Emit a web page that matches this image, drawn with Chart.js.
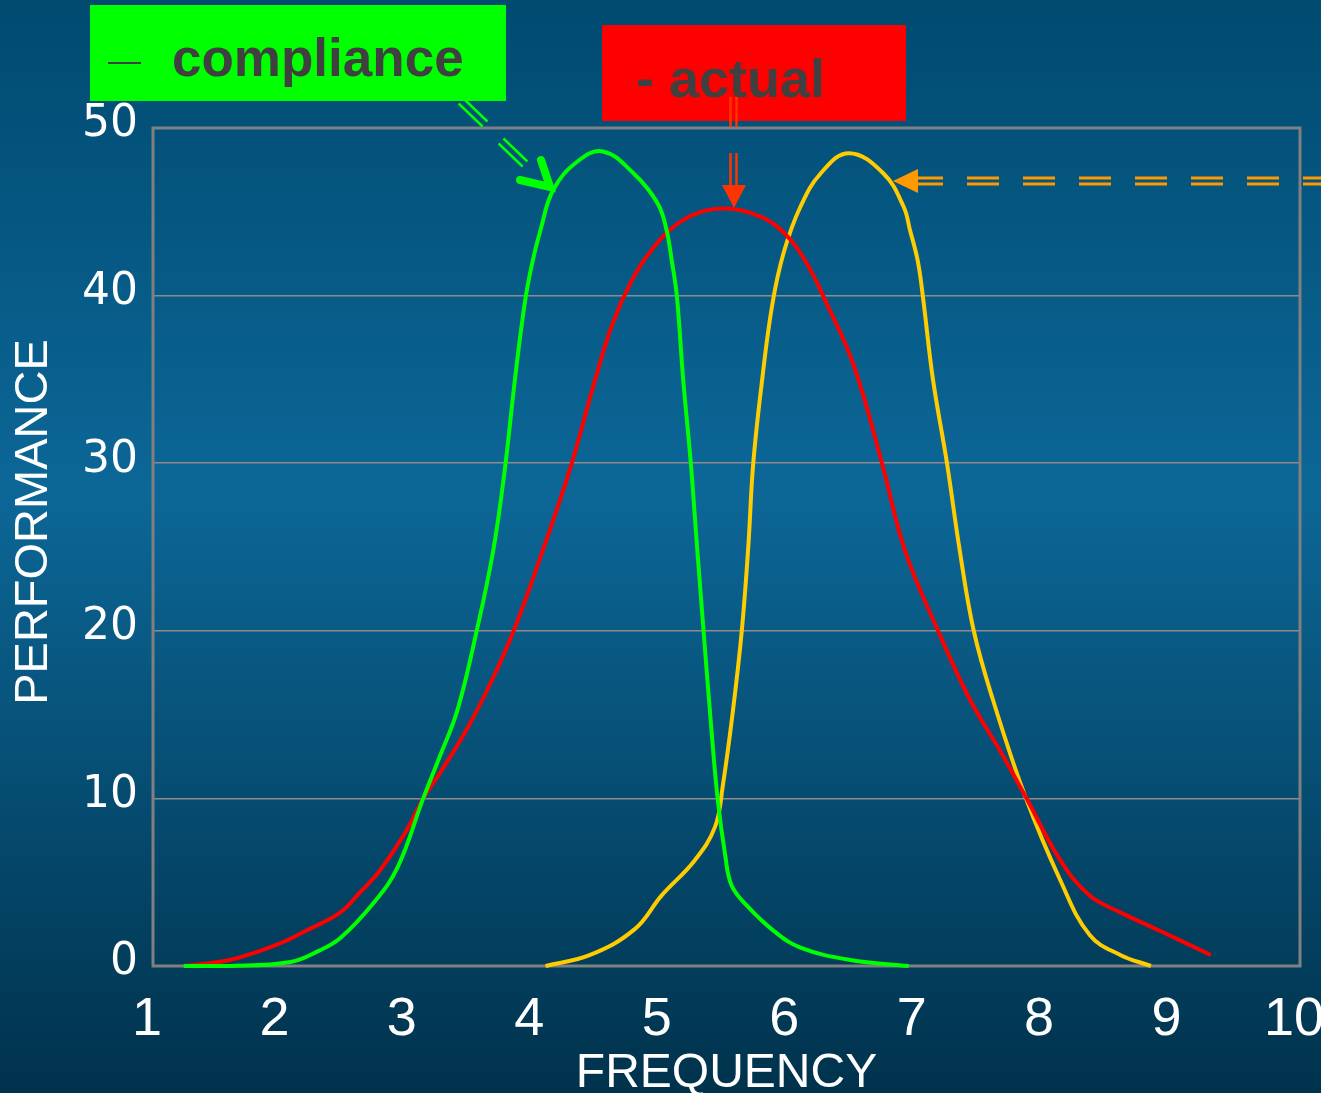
<!DOCTYPE html>
<html>
<head>
<meta charset="utf-8">
<script src="https://cdn.jsdelivr.net/npm/chart.js@4.4.1/dist/chart.umd.min.js"></script>
<style>
  html, body { margin: 0; padding: 0; overflow: hidden; }
  #wrap { width: 1321px; height: 1093px; }
</style>
</head>
<body>
<div id="wrap"><canvas id="perfChart" width="1321" height="1093"></canvas></div>
<script>
// values
const complianceFreq = [1.24, 1.6, 2.08, 2.3, 2.47, 2.73, 2.92, 3.12, 3.25, 3.39, 3.54, 3.67, 3.76, 3.84, 3.92, 3.98, 4.04, 4.14, 4.33, 4.53, 4.77, 4.96, 5.03, 5.07, 5.11, 5.16, 5.22, 5.27, 5.32, 5.37, 5.43, 5.49, 5.54, 5.66, 5.87, 6.08, 6.47, 6.93];
const compliancePerf = [0, 0, 0.24, 0.9, 1.67, 3.76, 5.9, 10, 12.5, 15.3, 20, 24.8, 29.6, 35, 39.7, 42.1, 43.9, 46.3, 48, 48.6, 47.3, 45.5, 43.9, 42.1, 40, 35, 30, 24.9, 20, 15.2, 10, 6.6, 4.8, 3.6, 2.1, 1.1, 0.36, 0];

const actualFreq = [1.24, 1.6, 1.98, 2.2, 2.47, 2.62, 2.78, 2.99, 3.12, 3.25, 3.46, 3.65, 3.83, 4.04, 4.27, 4.47, 4.6, 4.75, 4.9, 5.1, 5.3, 5.5, 5.7, 5.9, 6.1, 6.3, 6.5, 6.72, 6.9, 7.16, 7.41, 7.65, 7.84, 8.12, 8.35, 8.59, 8.9, 9.3];
const actualPerf = [0, 0.36, 1.3, 2.1, 3.2, 4.36, 5.7, 8.1, 10, 11.5, 14.1, 16.9, 20, 24.4, 29.6, 35, 38.2, 40.8, 42.6, 44.2, 45, 45.2, 44.9, 44.1, 42.3, 39.3, 35.8, 30, 24.8, 20, 15.9, 12.8, 10.2, 6.3, 4.2, 3.2, 2.1, 0.66];

const targetFreq = [4.08, 4.43, 4.78, 4.99, 5.25, 5.41, 5.47, 5.55, 5.62, 5.67, 5.71, 5.78, 5.86, 5.95, 6.08, 6.24, 6.46, 6.73, 6.89, 6.94, 7.0, 7.04, 7.12, 7.23, 7.33, 7.44, 7.59, 7.84, 8.12, 8.35, 8.59, 8.83];
const targetPerf = [0, 0.66, 2.2, 4.2, 6.3, 8.3, 10.7, 15.2, 20, 24.9, 30, 35, 39.5, 42.6, 45.3, 47.3, 48.5, 47.3, 45.3, 43.9, 42.1, 40, 35, 30, 24.8, 20, 15.9, 10.2, 5.1, 1.85, 0.66, 0];

const xTicks = [1, 2, 3, 4, 5, 6, 7, 8, 9, 10];
const yTicks = [0, 10, 20, 30, 40, 50];

function toPoints(xs, ys) {
  return xs.map((x, i) => ({ x: x, y: ys[i] }));
}

function lineSet(label, xs, ys, color) {
  return {
    label: label,
    data: toPoints(xs, ys),
    borderColor: color,
    borderWidth: 4,
    pointRadius: 0,
    fill: false,
    tension: 0.4,
    clip: false,
  };
}

// blue slide background
const backgroundPlugin = {
  id: "slideBackground",
  beforeDraw(chart) {
    const c = chart.ctx;
    const g = c.createLinearGradient(0, 0, 0, chart.height);
    g.addColorStop(0, "#004a70");
    g.addColorStop(0.45, "#0c6797");
    g.addColorStop(1, "#00324c");
    c.save();
    c.fillStyle = g;
    c.fillRect(0, 0, chart.width, chart.height);
    c.restore();
  },
  beforeDatasetsDraw(chart) {
    const a = chart.chartArea;
    const c = chart.ctx;
    c.save();
    c.strokeStyle = "#808080";
    c.lineWidth = 3;
    c.strokeRect(a.left, a.top, a.right - a.left, a.bottom - a.top);
    // y axis title
    c.translate(34, 522);
    c.rotate(-Math.PI / 2);
    c.fillStyle = "#ffffff";
    c.font = "47px 'Liberation Sans', Arial, sans-serif";
    c.textAlign = "center";
    c.textBaseline = "middle";
    c.fillText("PERFORMANCE", 0, 0);
    c.restore();
  },
};

function doubleLine(c, x1, y1, x2, y2, gap) {
  const dx = x2 - x1, dy = y2 - y1;
  const len = Math.hypot(dx, dy);
  const nx = (-dy / len) * gap / 2, ny = (dx / len) * gap / 2;
  c.beginPath();
  c.moveTo(x1 + nx, y1 + ny); c.lineTo(x2 + nx, y2 + ny);
  c.moveTo(x1 - nx, y1 - ny); c.lineTo(x2 - nx, y2 - ny);
  c.stroke();
}

// labels boxes and arrows
const calloutPlugin = {
  id: "callouts",
  afterDraw(chart) {
    const c = chart.ctx;
    c.save();

    // compliance box
    c.fillStyle = "#00ff00";
    c.fillRect(90, 5, 416, 96);
    c.fillStyle = "#404040";
    c.fillRect(108, 62, 33, 2);
    c.font = "bold 53px 'Liberation Sans', Arial, sans-serif";
    c.textBaseline = "alphabetic";
    c.fillText("compliance", 172, 76);

    // actual box
    c.fillStyle = "#ff0000";
    c.fillRect(602, 25, 304, 96);
    c.fillStyle = "#404040";
    c.font = "bold 54px 'Liberation Sans', Arial, sans-serif";
    c.fillText("- actual", 636, 97);

    // green arrow
    c.strokeStyle = "#00ff00";
    c.lineWidth = 2.5;
    doubleLine(c, 461, 101, 485, 124, 7);
    doubleLine(c, 501, 141, 525, 164, 7);
    c.lineWidth = 8;
    c.lineCap = "round";
    c.beginPath();
    c.moveTo(520, 180); c.lineTo(550, 187); c.lineTo(541, 160);
    c.stroke();
    c.lineCap = "butt";

    // red arrow
    c.strokeStyle = "#ff3300";
    c.fillStyle = "#ff3300";
    c.lineWidth = 2.5;
    doubleLine(c, 733.5, 97, 733.5, 127, 6);
    doubleLine(c, 733.5, 153, 733.5, 186, 6);
    c.beginPath();
    c.moveTo(722, 185); c.lineTo(746, 185); c.lineTo(734, 208);
    c.closePath();
    c.fill();

    // orange dashed arrow
    c.strokeStyle = "#ff9900";
    c.fillStyle = "#ff9900";
    c.lineWidth = 3;
    c.setLineDash([32, 24]);
    c.lineDashOffset = 3;
    c.beginPath();
    c.moveTo(914, 178); c.lineTo(1321, 178);
    c.moveTo(914, 184); c.lineTo(1321, 184);
    c.stroke();
    c.setLineDash([]);
    c.beginPath();
    c.moveTo(893, 181); c.lineTo(918, 169); c.lineTo(918, 193);
    c.closePath();
    c.fill();

    c.restore();
  },
};

const ctx = document.getElementById("perfChart").getContext("2d");

let perfChart = new Chart(ctx, {
  type: "line",
  data: {
    datasets: [
      lineSet("compliance", complianceFreq, compliancePerf, "#00ff00"),
      lineSet("actual", actualFreq, actualPerf, "#ff0000"),
      lineSet("target", targetFreq, targetPerf, "#ffcc00"),
    ],
  },
  options: {
    responsive: false,
    animation: false,
    devicePixelRatio: 1,
    layout: {
      padding: { top: 128, right: 21, left: 0, bottom: 0 },
    },
    scales: {
      x: {
        type: "linear",
        min: 1,
        max: 10,
        afterBuildTicks: (scale) => {
          scale.ticks = xTicks.map((v) => ({ value: v }));
        },
        afterFit: (scale) => {
          scale.height = 127;
          scale.paddingLeft = 0;
          scale.paddingRight = 0;
        },
        grid: { display: false, drawTicks: false },
        border: { display: false },
        ticks: {
          color: "#ffffff",
          padding: 22,
          labelOffset: -6,
          maxRotation: 0,
          autoSkip: false,
          font: { family: "'Liberation Sans', Arial, sans-serif", size: 54 },
        },
        title: {
          display: true,
          text: "FREQUENCY",
          color: "#ffffff",
          padding: 0,
          font: { family: "'Liberation Sans', Arial, sans-serif", size: 48, lineHeight: 0.8 },
        },
      },
      y: {
        min: 0,
        max: 50,
        afterBuildTicks: (scale) => {
          scale.ticks = yTicks.map((v) => ({ value: v }));
        },
        afterFit: (scale) => {
          scale.width = 153;
        },
        grid: { color: "#8c8c8c", lineWidth: 1.5, drawTicks: false },
        border: { display: false },
        ticks: {
          color: "#ffffff",
          padding: 15,
          labelOffset: -3,
          font: { family: "'DejaVu Sans', sans-serif", size: 44 },
        },
      },
    },
    plugins: {
      legend: { display: false },
      tooltip: { enabled: false },
    },
  },
  plugins: [backgroundPlugin, calloutPlugin],
});
</script>
</body>
</html>
